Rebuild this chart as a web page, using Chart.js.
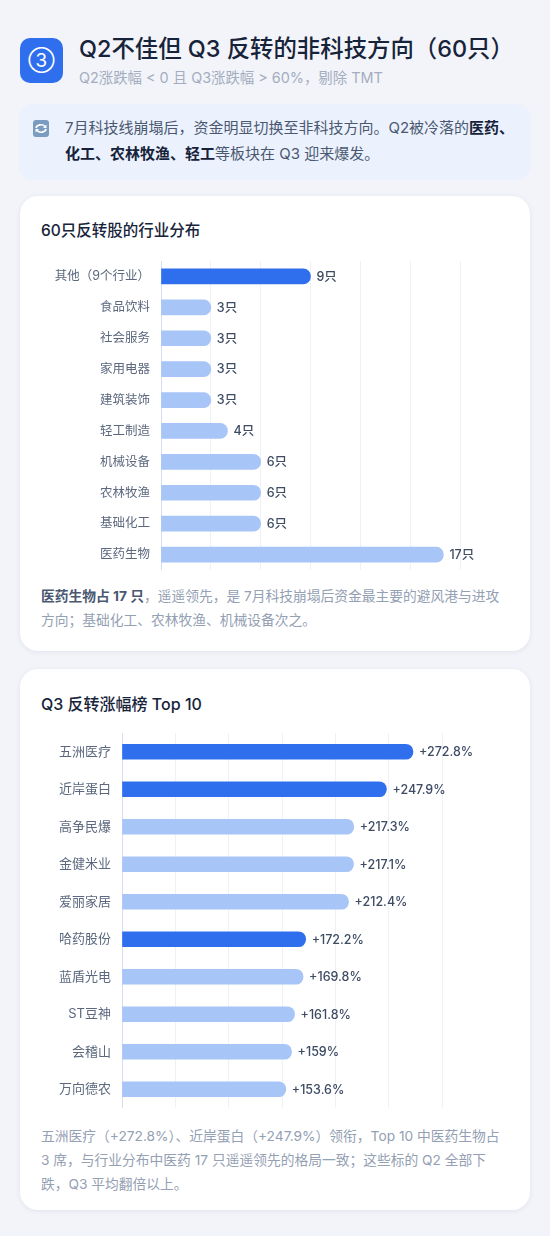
<!DOCTYPE html>
<html lang="zh">
<head>
<meta charset="utf-8">
<script src="https://cdn.jsdelivr.net/npm/chart.js@4/dist/chart.umd.min.js"></script>
<style>
*{box-sizing:border-box;margin:0;padding:0}
html,body{width:550px;height:1236px;overflow:hidden;background:#f2f4f9;font-family:Inter,"Noto Sans CJK SC",sans-serif}
.abs{position:absolute}
.icon{left:20px;top:38px;width:43px;height:45px;border-radius:10px;background:#2f6fed;color:#fff;font-size:19px;display:flex;align-items:center;justify-content:center}
.title{left:79px;top:34px;font-size:23.4px;font-weight:500;color:#16233a;line-height:30px;white-space:nowrap}
.sub{left:79px;top:68px;font-size:14.4px;color:#a3adbf;line-height:20px;white-space:nowrap}
.call{left:19px;top:104px;width:512px;height:76px;border-radius:14px;background:#ebf1fd}
.calltext{left:65px;top:115px;width:450px;font-size:15px;line-height:26px;color:#4a5870;white-space:nowrap}
.calltext b{color:#16233a;font-weight:700}
.card{left:20px;width:510px;background:#fff;border-radius:18px;box-shadow:0 1px 5px rgba(40,60,100,.09)}
.h{left:41px;font-weight:500;color:#16233a;line-height:22px;white-space:nowrap}
.note{left:41px;font-size:13.75px;line-height:24px;color:#94a0b3;white-space:nowrap}
.note b{color:#4a5870;font-weight:700}
canvas{display:block}
</style>
</head>
<body>
<div class="abs icon">③</div>
<div class="abs title">Q2不佳但 Q3 反转的非科技方向（60只）</div>
<div class="abs sub">Q2涨跌幅 &lt; 0 且 Q3涨跌幅 &gt; 60%，剔除 TMT</div>
<div class="abs call"></div>
<svg class="abs" style="left:33px;top:120px" width="16" height="17" viewBox="0 0 16 17">
<rect width="16" height="17" rx="3" fill="#7b9cc0"/>
<path d="M3 8a5 4 0 0 1 9-1.5M13 9a5 4 0 0 1-9 1.5" fill="none" stroke="#fff" stroke-width="1.6"/>
<path d="M13.5 4.5v3.5h-3.5zM2.5 12.5V9h3.5z" fill="#fff"/>
</svg>
<div class="abs calltext">7月科技线崩塌后，资金明显切换至非科技方向。Q2被冷落的<b>医药、</b><br><b>化工、农林牧渔、轻工</b>等板块在 Q3 迎来爆发。</div>

<div class="abs card" style="top:196px;height:455px"></div>
<div class="abs h" style="top:220px;font-size:15.5px">60只反转股的行业分布</div>
<div class="abs" style="left:41px;top:261px;width:469px;height:309px"><canvas id="c1" width="469" height="309"></canvas></div>
<div class="abs note" style="top:584px"><b>医药生物占 17 只</b>，遥遥领先，是 7月科技崩塌后资金最主要的避风港与进攻<br>方向；基础化工、农林牧渔、机械设备次之。</div>

<div class="abs card" style="top:669px;height:541px"></div>
<div class="abs h" style="top:693px;font-size:16px">Q3 反转涨幅榜 Top 10</div>
<div class="abs" style="left:41px;top:733px;width:469px;height:375px"><canvas id="c2" width="469" height="375"></canvas></div>
<div class="abs note" style="top:1124px">五洲医疗（+272.8%）、近岸蛋白（+247.9%）领衔，Top 10 中医药生物占<br>3 席，与行业分布中医药 17 只遥遥领先的格局一致；这些标的 Q2 全部下<br>跌，Q3 平均翻倍以上。</div>

<script>
const industryLabels = ['其他（9个行业）','食品饮料','社会服务','家用电器','建筑装饰','轻工制造','机械设备','农林牧渔','基础化工','医药生物'];
const industryCounts = [9,3,3,3,3,4,6,6,6,17];
const industryHighlight = [0];
const stockLabels = ['五洲医疗','近岸蛋白','高争民爆','金健米业','爱丽家居','哈药股份','蓝盾光电','ST豆神','会稽山','万向德农'];
const stockGains = [272.8,247.9,217.3,217.1,212.4,172.2,169.8,161.8,159,153.6];
const stockHighlight = [0,1,5];

const DARK='#2f6fed', LIGHT='#a8c5f7', FONT='Inter,"Noto Sans CJK SC",sans-serif';
const valueLabels = {
  id:'valueLabels',
  afterDatasetsDraw(chart,args,opts){
    const {ctx}=chart, meta=chart.getDatasetMeta(0);
    ctx.save();
    ctx.font='500 12.5px '+FONT; ctx.fillStyle='#3d4b63';
    ctx.textBaseline='middle'; ctx.textAlign='left';
    meta.data.forEach((bar,i)=>{
      ctx.fillText(opts.format(chart.data.datasets[0].data[i]),bar.x+6,bar.y+0.5);
    });
    ctx.restore();
  }
};
function build(id,labels,values,hi,max,step,axisW,padR,labelSize,fmt){
  return new Chart(document.getElementById(id),{
    type:'bar',
    data:{labels,datasets:[{
      data:values,
      backgroundColor:values.map((v,i)=>hi.includes(i)?DARK:LIGHT),
      borderRadius:{topLeft:0,bottomLeft:0,topRight:7.5,bottomRight:7.5},
      borderSkipped:false,
      barThickness:15
    }]},
    options:{
      indexAxis:'y',responsive:false,animation:false,
      layout:{padding:{left:0,right:padR,top:0,bottom:0}},
      plugins:{legend:{display:false},tooltip:{enabled:false},valueLabels:{format:fmt}},
      scales:{
        x:{min:0,max,ticks:{stepSize:step,display:false},
           grid:{color:'#eef1f7',lineWidth:1,drawTicks:false},
           border:{display:false}},
        y:{grid:{display:false,drawTicks:false},
           border:{display:true,color:'#d5def0',width:1},
           ticks:{color:'#5b687e',font:{size:labelSize,family:FONT},padding:11,autoSkip:false},
           afterFit(s){s.width=axisW;s.paddingTop=0;s.paddingBottom=0}}
      }
    },
    plugins:[valueLabels]
  });
}
build('c1',industryLabels,industryCounts,industryHighlight,18,3,120,50,12.5,v=>v+'只');
build('c2',stockLabels,stockGains,stockHighlight,300,50,81,68,13,v=>'+'+v+'%');
</script>
</body>
</html>
